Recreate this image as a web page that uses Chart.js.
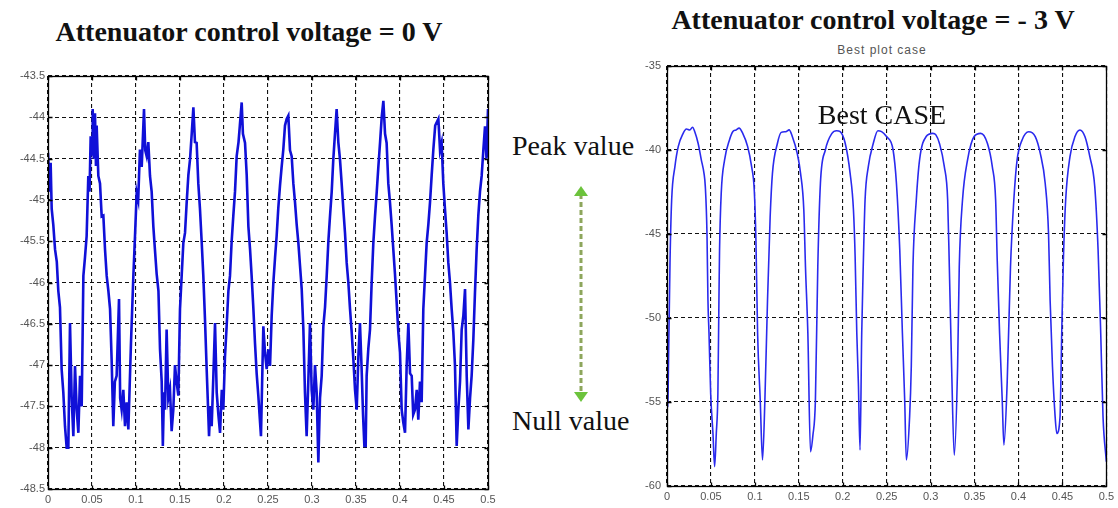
<!DOCTYPE html>
<html><head><meta charset="utf-8">
<script src="https://cdn.jsdelivr.net/npm/chart.js@4.4.1/dist/chart.umd.min.js"></script>
<style>
html,body{margin:0;padding:0;background:#fff;width:1118px;height:508px;overflow:hidden;position:relative;}
.t{position:absolute;white-space:nowrap;line-height:28px;color:#111;font-family:"Liberation Serif","Times New Roman",serif;font-size:28px;}
canvas{position:absolute;}
</style></head><body>
<div class="t" style="left:0;width:498px;text-align:center;top:18px;font-weight:bold;">Attenuator control voltage = 0 V</div>
<div class="t" style="left:623px;width:500px;text-align:center;top:6px;font-weight:bold;">Attenuator control voltage = - 3 V</div>
<div class="t" style="left:782px;width:200px;text-align:center;top:44px;font-family:'Liberation Sans',Arial,sans-serif;font-size:12px;line-height:12px;letter-spacing:1px;color:#555;">Best plot case</div>
<div class="t" style="left:512px;top:132px;">Peak value</div>
<div class="t" style="left:512px;top:407px;">Null value</div>
<svg style="position:absolute;left:569px;top:182px" width="24" height="226">
  <line x1="12" y1="12" x2="12" y2="212" stroke="#8da65c" stroke-width="3" stroke-dasharray="5,3"/>
  <polygon points="12,4 5,14 19,14" fill="#6cc33c"/>
  <polygon points="12,220 5,210 19,210" fill="#6cc33c"/>
</svg>
<canvas id="c1" width="500" height="448" style="left:0;top:60px"></canvas>
<canvas id="c2" width="488" height="462" style="left:630px;top:46px"></canvas>
<div class="t" style="left:782px;width:200px;text-align:center;top:101px;">Best CASE</div>
<script>
// ---- data (time in s, power in dB) ----
const xTickValues = [0,0.05,0.1,0.15,0.2,0.25,0.3,0.35,0.4,0.45,0.5];
const xTickLabels = ['0','0.05','0.1','0.15','0.2','0.25','0.3','0.35','0.4','0.45','0.5'];
const leftYTickValues = [-43.5,-44,-44.5,-45,-45.5,-46,-46.5,-47,-47.5,-48,-48.5];
const leftYTickLabels = ['-43.5','-44','-44.5','-45','-45.5','-46','-46.5','-47','-47.5','-48','-48.5'];
const rightYTickValues = [-35,-40,-45,-50,-55,-60];
const rightYTickLabels = ['-35','-40','-45','-50','-55','-60'];

// Attenuator control voltage = 0 V
const trace0V = [
[0,-44.43],[0.002,-44.9],[0.003,-44.55],[0.0042,-45.11],[0.006,-45.3],[0.008,-45.6],[0.010,-45.75],[0.0117,-46.1],[0.0136,-46.3],
[0.0155,-47.05],[0.0174,-47.33],[0.0193,-47.74],[0.0212,-48.0],[0.0231,-48.0],[0.025,-46.49],[0.0269,-47.4],[0.0288,-47.86],
[0.0307,-47.01],[0.0326,-47.54],[0.0345,-47.82],[0.0364,-47.13],[0.0383,-47.5],[0.0402,-45.92],[0.042,-45.7],[0.0439,-45.44],
[0.0458,-44.71],[0.0472,-44.9],[0.0485,-44.23],[0.05,-44.45],[0.0508,-43.9],[0.052,-44.5],[0.0534,-43.95],[0.0545,-44.59],
[0.0553,-44.1],[0.0572,-44.71],[0.0591,-44.8],[0.061,-45.2],[0.0629,-45.19],[0.0648,-45.6],[0.0667,-45.92],[0.0686,-46.1],
[0.0705,-46.32],[0.0723,-46.93],[0.0742,-47.74],[0.076,-47.2],[0.078,-47.13],[0.0807,-46.2],[0.082,-47.4],[0.0837,-47.54],
[0.0856,-47.3],[0.0875,-47.74],[0.0894,-47.45],[0.0913,-47.78],[0.0943,-46.73],[0.097,-45.92],[0.099,-45.4],[0.1008,-44.91],
[0.1025,-45.0],[0.1045,-44.39],[0.1065,-44.6],[0.1091,-43.9],[0.1105,-44.4],[0.1121,-44.47],[0.114,-44.3],[0.1159,-44.71],
[0.1178,-44.9],[0.1197,-45.32],[0.1215,-45.6],[0.1235,-45.9],[0.1255,-46.1],[0.1273,-46.81],[0.1292,-47.2],[0.1305,-47.98],
[0.1318,-47.33],[0.133,-47.54],[0.1348,-46.57],[0.1367,-47.4],[0.1386,-47.29],[0.1405,-47.8],[0.1424,-47.54],[0.1443,-47.0],
[0.1462,-47.21],[0.1481,-47.37],[0.15,-46.32],[0.152,-45.9],[0.1538,-45.52],[0.1557,-45.4],[0.1576,-45.03],[0.1595,-44.7],
[0.1614,-44.51],[0.1633,-44.2],[0.1652,-43.88],[0.167,-44.3],[0.1689,-44.31],[0.1708,-44.8],[0.1727,-45.11],[0.1746,-45.5],
[0.1765,-45.92],[0.1784,-46.45],[0.1803,-47.05],[0.1815,-47.4],[0.183,-47.86],[0.1845,-47.5],[0.186,-47.74],[0.188,-47.1],
[0.1898,-46.49],[0.1917,-47.33],[0.1936,-47.6],[0.1955,-47.82],[0.1975,-47.3],[0.1992,-47.54],[0.2011,-46.9],[0.203,-46.53],
[0.205,-46.1],[0.2068,-45.92],[0.2087,-45.5],[0.2106,-45.19],[0.2125,-44.9],[0.2144,-44.47],[0.2165,-44.3],[0.218,-44.1],
[0.2201,-43.82],[0.2215,-44.2],[0.2239,-44.31],[0.2258,-44.7],[0.2277,-45.32],[0.2296,-45.6],[0.2314,-45.92],[0.2333,-46.3],
[0.2352,-46.73],[0.2371,-47.1],[0.239,-47.37],[0.241,-47.7],[0.242,-47.86],[0.2447,-46.53],[0.2466,-46.85],[0.2485,-47.05],
[0.2504,-46.81],[0.2523,-47.01],[0.2542,-46.4],[0.2561,-46.0],[0.258,-45.7],[0.2598,-45.44],[0.2617,-45.1],[0.2636,-44.83],
[0.2655,-44.6],[0.2674,-44.39],[0.2693,-44.1],[0.2712,-44.02],[0.2731,-43.98],[0.275,-44.4],[0.2769,-44.47],[0.2788,-44.8],
[0.2807,-45.03],[0.2826,-45.3],[0.2845,-45.52],[0.2864,-45.8],[0.2883,-46.08],[0.2902,-46.57],[0.292,-47.33],[0.2939,-47.86],
[0.2958,-47.2],[0.2977,-46.49],[0.2996,-47.3],[0.3015,-47.54],[0.3034,-47.0],[0.3053,-47.33],[0.3072,-48.18],[0.3091,-47.4],
[0.311,-47.13],[0.3129,-46.53],[0.3148,-46.3],[0.3167,-45.92],[0.3186,-45.5],[0.3205,-45.19],[0.3224,-44.9],[0.3242,-44.51],
[0.3261,-44.2],[0.328,-43.9],[0.3299,-44.3],[0.3318,-44.51],[0.3337,-44.8],[0.3356,-45.11],[0.3375,-45.4],[0.3394,-45.76],
[0.3413,-46.0],[0.3432,-46.32],[0.3451,-46.6],[0.347,-46.93],[0.3489,-47.3],[0.3508,-47.54],[0.3527,-46.9],[0.3545,-46.49],
[0.3564,-47.05],[0.358,-47.6],[0.3595,-47.98],[0.361,-47.98],[0.3621,-47.13],[0.364,-46.8],[0.3659,-46.57],[0.3678,-46.0],
[0.3697,-45.52],[0.3716,-45.2],[0.3735,-44.91],[0.3754,-44.6],[0.3773,-44.31],[0.3792,-44.0],[0.3811,-43.8],[0.383,-44.2],
[0.3848,-44.31],[0.3867,-44.8],[0.3886,-45.03],[0.3905,-45.3],[0.3924,-45.6],[0.3943,-45.9],[0.3962,-46.24],[0.3981,-46.6],
[0.4,-46.85],[0.4019,-47.54],[0.4038,-47.7],[0.4057,-47.82],[0.4076,-47.0],[0.4095,-46.49],[0.4114,-47.1],[0.4133,-47.13],
[0.415,-47.6],[0.417,-47.54],[0.419,-47.3],[0.4208,-47.66],[0.4227,-47.2],[0.4246,-47.45],[0.4265,-46.32],[0.4285,-45.9],
[0.4303,-45.52],[0.4322,-45.3],[0.4341,-45.03],[0.436,-44.7],[0.4379,-44.39],[0.44,-44.1],[0.4436,-44.02],[0.4455,-44.4],
[0.4473,-44.31],[0.4492,-44.8],[0.4511,-45.11],[0.453,-45.4],[0.4549,-45.76],[0.4568,-46.0],[0.4587,-46.32],[0.4606,-46.6],
[0.4625,-47.01],[0.4644,-47.98],[0.4663,-47.54],[0.4682,-47.2],[0.4701,-46.57],[0.472,-46.4],[0.4739,-46.08],[0.4758,-47.13],
[0.4777,-47.78],[0.4796,-47.4],[0.4814,-47.13],[0.4833,-46.7],[0.4852,-46.12],[0.4871,-45.6],[0.489,-45.19],[0.4909,-44.9],
[0.4928,-44.71],[0.4947,-44.4],[0.4966,-44.11],[0.4983,-44.5],[0.5,-43.9]
];

// Attenuator control voltage = -3 V (best case)
const traceMinus3V = [
[0,-53.9],[0.001,-55.3],[0.0015,-53.5],[0.0034,-46.75],[0.0053,-42.98],[0.009,-40.99],[0.0128,-39.8],[0.0184,-39.01],
[0.022,-38.75],[0.026,-38.81],[0.029,-38.65],[0.0316,-38.91],[0.0354,-39.6],[0.0391,-40.6],[0.0421,-41.39],[0.0436,-42.18],
[0.0455,-44.97],[0.0466,-48.93],[0.0478,-50.91],[0.0497,-54.49],[0.0523,-56.87],[0.0542,-58.85],[0.0561,-56.87],[0.0579,-54.49],
[0.0591,-48.93],[0.0598,-45.96],[0.0617,-42.58],[0.0655,-40.6],[0.0711,-39.4],[0.075,-38.9],[0.0786,-38.81],[0.082,-38.7],
[0.0862,-39.01],[0.0918,-39.8],[0.0963,-40.99],[0.0993,-42.38],[0.1012,-45.36],[0.1031,-50.91],[0.1061,-54.88],[0.1087,-58.45],
[0.1114,-54.88],[0.1144,-48.93],[0.1174,-43.97],[0.12,-41.39],[0.1257,-39.6],[0.13,-38.95],[0.1351,-38.91],[0.139,-38.8],
[0.1426,-39.2],[0.1482,-40.2],[0.152,-41.39],[0.1557,-43.57],[0.1576,-46.96],[0.1603,-50.91],[0.1633,-57.96],[0.166,-57.0],
[0.1689,-54.88],[0.1716,-46.96],[0.1746,-41.98],[0.1802,-40.0],[0.1877,-39.01],[0.193,-38.85],[0.1971,-38.91],[0.2028,-39.6],
[0.2084,-41.39],[0.2122,-43.57],[0.2141,-46.35],[0.216,-50.91],[0.2178,-53.89],[0.2197,-57.86],[0.2216,-50.91],[0.2235,-46.55],
[0.2254,-42.98],[0.2291,-40.99],[0.2348,-39.6],[0.24,-38.85],[0.2442,-38.91],[0.2498,-39.2],[0.2573,-40.0],[0.2611,-41.98],
[0.2649,-45.96],[0.2679,-50.91],[0.2705,-54.88],[0.2724,-58.45],[0.2761,-55.87],[0.278,-52.9],[0.2799,-46.96],[0.2837,-42.98],
[0.2874,-40.6],[0.2949,-39.2],[0.3025,-39.01],[0.306,-39.1],[0.31,-39.6],[0.3156,-40.99],[0.3194,-42.98],[0.3213,-46.96],
[0.3239,-52.9],[0.3269,-58.16],[0.3307,-52.9],[0.3326,-46.96],[0.3363,-42.98],[0.342,-40.6],[0.3495,-39.2],[0.357,-39.01],
[0.3646,-39.6],[0.3702,-40.99],[0.374,-42.98],[0.3758,-46.55],[0.3785,-50.91],[0.3815,-54.88],[0.3834,-57.56],[0.3871,-53.89],
[0.3909,-46.96],[0.3947,-42.98],[0.3984,-40.6],[0.4041,-39.4],[0.4116,-38.91],[0.4191,-39.2],[0.4248,-40.2],[0.4304,-41.98],
[0.4342,-44.97],[0.436,-48.93],[0.4387,-52.9],[0.4417,-55.87],[0.4436,-56.87],[0.4473,-55.87],[0.4492,-50.91],[0.4511,-46.55],
[0.4537,-42.98],[0.4586,-40.4],[0.4643,-39.2],[0.4699,-38.81],[0.4756,-39.2],[0.4812,-40.4],[0.4868,-42.18],[0.4906,-45.96],
[0.4936,-50.91],[0.4962,-55.87],[0.5,-58.55]
];

// ---- rendering ----
const boxPlugin = {
  id: 'box',
  afterDatasetsDraw(chart) {
    const {ctx, chartArea: a, scales: {x, y}} = chart;
    const L = Math.round(a.left) + 0.5, R = Math.round(a.right) + 0.5;
    const T = Math.round(a.top) + 0.5, B = Math.round(a.bottom) + 0.5;
    ctx.save();
    ctx.strokeStyle = '#000';
    ctx.lineWidth = 1.3;
    ctx.setLineDash([]);
    ctx.strokeRect(L, T, R - L, B - T);
    ctx.beginPath();
    x.ticks.forEach(t => {
      const p = Math.round(x.getPixelForValue(t.value)) + 0.5;
      ctx.moveTo(p, B); ctx.lineTo(p, B - 4);
      ctx.moveTo(p, T); ctx.lineTo(p, T + 4);
    });
    y.ticks.forEach(t => {
      const p = Math.round(y.getPixelForValue(t.value)) + 0.5;
      ctx.moveTo(L, p); ctx.lineTo(L + 4, p);
      ctx.moveTo(R, p); ctx.lineTo(R - 4, p);
    });
    ctx.stroke();
    ctx.restore();
  }
};

function makeChart(id, trace, yMin, yMax, yVals, yLabels, opts) {
  const tickFont = {family: "'Liberation Sans', Arial, sans-serif", size: 11};
  return new Chart(document.getElementById(id), {
    type: 'line',
    data: {
      datasets: [{
        data: trace.map(p => ({x: p[0], y: p[1]})),
        borderColor: opts.color,
        borderWidth: opts.lw,
        pointRadius: 0,
        tension: 0,
        cubicInterpolationMode: opts.smooth ? 'monotone' : 'default',
        fill: false
      }]
    },
    options: {
      responsive: false,
      animation: false,
      devicePixelRatio: 1,
      layout: {padding: opts.padding},
      plugins: {legend: {display: false}, tooltip: {enabled: false}, title: {display: false}},
      scales: {
        x: {
          type: 'linear', min: 0, max: 0.5,
          afterBuildTicks: s => { s.ticks = xTickValues.map(v => ({value: v})); },
          afterFit: s => { s.height = opts.xh; },
          ticks: {
            font: tickFont, color: '#555', padding: 4, maxRotation: 0, autoSkip: false,
            callback: (v, i) => xTickLabels[i]
          },
          grid: {color: '#111', lineWidth: 1.1, drawTicks: false},
          border: {display: false, dash: [4, 3]}
        },
        y: {
          type: 'linear', min: yMin, max: yMax,
          afterBuildTicks: s => { s.ticks = yVals.map(v => ({value: v})); },
          afterFit: s => { s.width = opts.yw; },
          ticks: {
            font: tickFont, color: '#555', padding: opts.ypad, autoSkip: false,
            callback: (v, i) => yLabels[i]
          },
          grid: {color: '#111', lineWidth: 1.1, drawTicks: false},
          border: {display: false, dash: [4, 3]}
        }
      }
    },
    plugins: [boxPlugin]
  });
}

makeChart('c1', trace0V, -48.5, -43.5, leftYTickValues, leftYTickLabels,
  {color: '#1010d8', lw: 2.6, smooth: false, padding: {left: 0, top: 16, right: 12, bottom: 0}, xh: 19, yw: 48, ypad: 3});
makeChart('c2', traceMinus3V, -60, -35, rightYTickValues, rightYTickLabels,
  {color: '#2a2aee', lw: 1.6, smooth: true, padding: {left: 0, top: 20, right: 8, bottom: 0}, xh: 22, yw: 37, ypad: 6});
</script>
</body></html>
